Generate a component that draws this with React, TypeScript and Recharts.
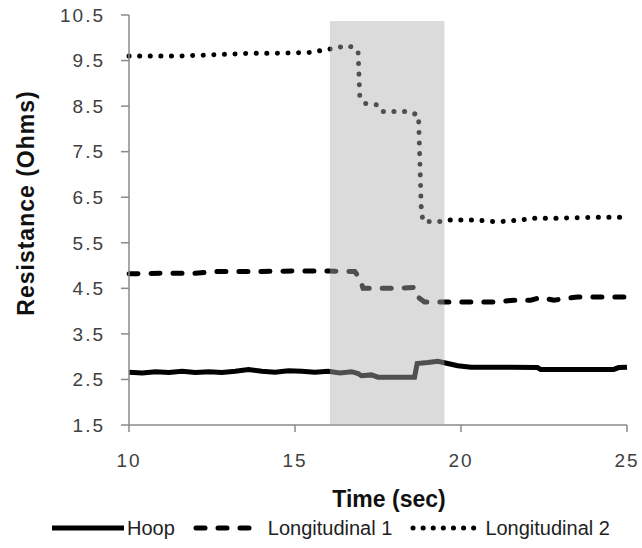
import { LineChart, Line, XAxis, YAxis, ReferenceArea, Legend } from 'recharts';

// Hoop (solid)
const hoopTime = [10, 10.4, 10.8, 11.2, 11.6, 12, 12.4, 12.8, 13.2, 13.6, 14, 14.4, 14.8, 15.2, 15.6, 16, 16.35, 16.7, 16.9, 17.0, 17.3, 17.5, 18, 18.6, 18.68, 19.0, 19.3, 19.6, 19.9, 20.3, 21, 21.5, 22.3, 22.4, 23, 23.5, 24, 24.6, 24.75, 25];
const hoopValues = [2.66, 2.64, 2.67, 2.65, 2.68, 2.65, 2.67, 2.65, 2.68, 2.72, 2.68, 2.66, 2.69, 2.68, 2.66, 2.68, 2.64, 2.67, 2.63, 2.58, 2.6, 2.55, 2.55, 2.55, 2.85, 2.87, 2.9, 2.85, 2.8, 2.77, 2.77, 2.77, 2.76, 2.72, 2.72, 2.72, 2.72, 2.72, 2.76, 2.77];

// Longitudinal 1 (dashed)
const long1Time = [10, 11, 12, 12.6, 13, 14, 15, 16, 16.8, 16.95, 17.05, 18, 18.6, 18.72, 18.9, 19.5, 20, 21, 21.6, 22.1, 22.4, 22.8, 23.5, 24.3, 25];
const long1Values = [4.82, 4.83, 4.83, 4.87, 4.87, 4.87, 4.88, 4.88, 4.87, 4.72, 4.5, 4.5, 4.52, 4.3, 4.2, 4.2, 4.2, 4.2, 4.24, 4.24, 4.3, 4.24, 4.31, 4.31, 4.31];

// Longitudinal 2 (dotted)
const long2Time = [10, 10.8, 11.5, 12.3, 13, 13.6, 14.3, 15, 15.5, 15.9, 16.2, 16.55, 16.8, 16.9, 16.95, 17.1, 17.45, 17.6, 18.4, 18.6, 18.72, 18.8, 18.85, 19.3, 19.6, 20.4, 21.1, 21.8, 22.2, 23, 24, 25];
const long2Values = [9.6, 9.6, 9.6, 9.62, 9.64, 9.66, 9.66, 9.67, 9.68, 9.74, 9.77, 9.83, 9.78, 9.7, 8.72, 8.56, 8.53, 8.38, 8.38, 8.33, 8.3, 6.3, 5.97, 5.96, 6.0, 6.0, 5.96, 6.0, 6.04, 6.04, 6.06, 6.06];

const xTicks = [10, 15, 20, 25];
const yTicks = [1.5, 2.5, 3.5, 4.5, 5.5, 6.5, 7.5, 8.5, 9.5, 10.5];

// shaded loading window
const shadeStart = 16.05;
const shadeEnd = 19.5;
const shadeTop = 10.37;

const toRows = (t: number[], v: number[]) => t.map((time, i) => ({ time, value: v[i] }));

const hoopData = toRows(hoopTime, hoopValues);
const long1Data = toRows(long1Time, long1Values);
const long2Data = toRows(long2Time, long2Values);

const FONT = '"Liberation Sans", Arial, sans-serif';

const seriesStyles = [
  { name: 'Hoop', dash: undefined as string | undefined, cap: 'butt' },
  { name: 'Longitudinal 1', dash: '9 13', cap: 'round' },
  { name: 'Longitudinal 2', dash: '0.1 10', cap: 'round' },
];

const tickStyle = { fontFamily: FONT, fontSize: 19, fill: '#404040', letterSpacing: 2 };

const YTitle = () => (
  <text
    x={34}
    y={203}
    transform="rotate(-90, 34, 203)"
    textAnchor="middle"
    fontFamily={FONT}
    fontWeight="bold"
    fontSize={23}
    letterSpacing={1}
    fill="#111"
  >
    Resistance  (Ohms)
  </text>
);

const XTitle = ({ viewBox }: { viewBox?: { x: number; width: number } }) => {
  const cx = (viewBox?.x ?? 129) + (viewBox?.width ?? 498) / 2 + 11;
  return (
    <text x={cx} y={507} textAnchor="middle" fontFamily={FONT} fontWeight="bold" fontSize={23} fill="#111">
      Time (sec)
    </text>
  );
};

const LegendContent = () => (
  <div
    style={{
      display: 'flex',
      justifyContent: 'flex-start',
      alignItems: 'center',
      fontFamily: FONT,
      fontSize: 20,
      color: '#222',
      height: 40,
      paddingLeft: 52,
      whiteSpace: 'nowrap',
    }}
  >
    {seriesStyles.map((s, i) => (
      <div
        key={s.name}
        style={{ display: 'flex', alignItems: 'center', flexShrink: 0, marginRight: i < 2 ? 18 : 0 }}
      >
        <svg width={72} height={10} style={{ marginRight: 3 }}>
          <line
            x1={s.cap === 'round' ? 3 : 0}
            y1={5}
            x2={s.cap === 'round' ? 69 : 72}
            y2={5}
            stroke="#000"
            strokeWidth={5}
            strokeDasharray={s.dash}
            strokeLinecap={s.cap as 'butt' | 'round'}
          />
        </svg>
        <span>{s.name}</span>
      </div>
    ))}
  </div>
);

export default function App() {
  return (
    <div style={{ position: 'absolute', left: 0, top: 0 }}>
      <LineChart width={642} height={548} margin={{ top: 15, right: 15, bottom: 0, left: 0 }}>
        <XAxis
          dataKey="time"
          type="number"
          domain={[10, 25]}
          ticks={xTicks}
          allowDuplicatedCategory={false}
          height={83}
          tickSize={7}
          tickMargin={22}
          axisLine={{ stroke: '#8a8a8a', strokeWidth: 1.5 }}
          tickLine={{ stroke: '#8a8a8a', strokeWidth: 1.5 }}
          tick={tickStyle}
          label={<XTitle />}
        />
        <YAxis
          dataKey="value"
          type="number"
          domain={[1.5, 10.5]}
          ticks={yTicks}
          width={129}
          tickSize={8}
          tickMargin={16}
          axisLine={{ stroke: '#8a8a8a', strokeWidth: 1.5 }}
          tickLine={{ stroke: '#8a8a8a', strokeWidth: 1.5 }}
          tick={tickStyle}
          tickFormatter={(v: number) => v.toFixed(1)}
          label={<YTitle />}
        />
        <Line
          data={hoopData}
          dataKey="value"
          name="Hoop"
          type="linear"
          stroke="#000"
          strokeWidth={5}
          dot={false}
          isAnimationActive={false}
        />
        <Line
          data={long1Data}
          dataKey="value"
          name="Longitudinal 1"
          type="linear"
          stroke="#000"
          strokeWidth={5}
          strokeDasharray="9 13"
          strokeLinecap="round"
          dot={false}
          isAnimationActive={false}
        />
        <Line
          data={long2Data}
          dataKey="value"
          name="Longitudinal 2"
          type="linear"
          stroke="#000"
          strokeWidth={5}
          strokeDasharray="0.1 10.5"
          strokeLinecap="round"
          dot={false}
          isAnimationActive={false}
        />
        <ReferenceArea
          x1={shadeStart}
          x2={shadeEnd}
          y1={1.5}
          y2={shadeTop}
          fill="#b0b0b0"
          fillOpacity={0.45}
          stroke="none"
          ifOverflow="extendDomain"
          zIndex={1000}
        />
        <Legend verticalAlign="bottom" height={40} content={<LegendContent />} />
      </LineChart>
    </div>
  );
}
